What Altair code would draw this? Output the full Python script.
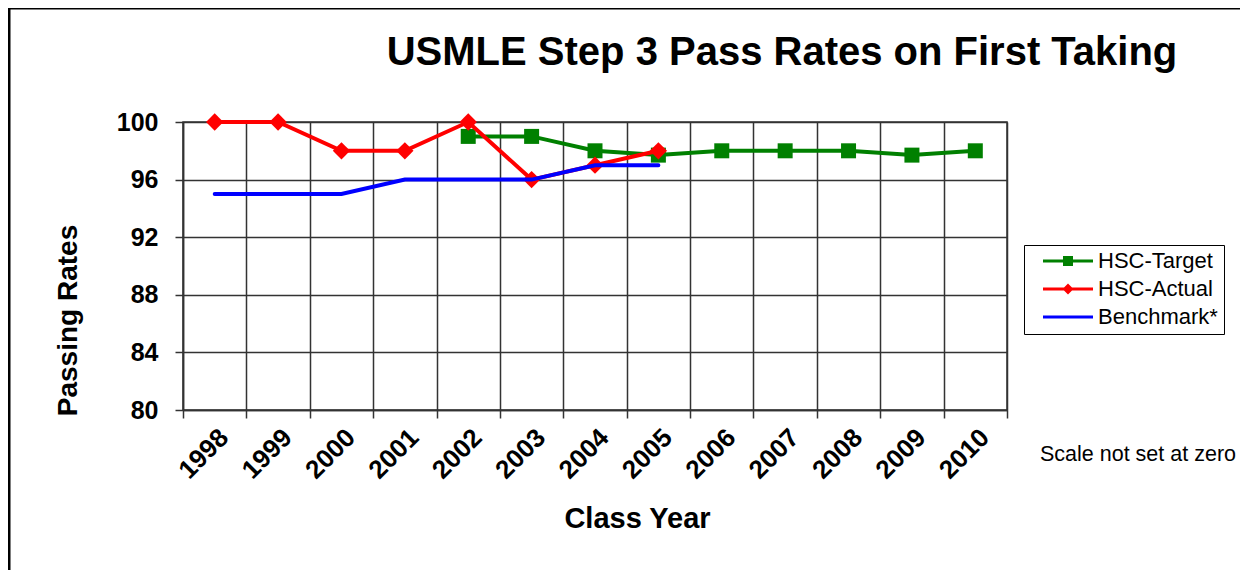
import altair as alt
import pandas as pd

# ---- data ----
years = ["1998", "1999", "2000", "2001", "2002", "2003", "2004",
         "2005", "2006", "2007", "2008", "2009", "2010"]
target_years = ["2002", "2003", "2004", "2005", "2006", "2007", "2008", "2009", "2010"]
target_vals = [99, 99, 98, 97.7, 98, 98, 98, 97.7, 98]
actual_years = ["1998", "1999", "2000", "2001", "2002", "2003", "2004", "2005"]
actual_vals = [100, 100, 98, 98, 100, 96, 97, 98]
bench_years = ["1998", "1999", "2000", "2001", "2002", "2003", "2004", "2005"]
bench_vals = [95, 95, 95, 96, 96, 96, 97, 97]
series_names = ["HSC-Target", "HSC-Actual", "Benchmark*"]
series_colors = ["#008000", "#FF0000", "#0000FF"]
y_ticks = [80, 84, 88, 92, 96, 100]
title_text = ["USMLE Step 3 Pass Rates on First Taking"]
note_text = ["Scale not set at zero"]

FONT = "Liberation Sans"

target_df = pd.DataFrame({"year": target_years, "value": target_vals})
actual_df = pd.DataFrame({"year": actual_years, "value": actual_vals})
bench_df = pd.DataFrame({"year": bench_years, "value": bench_vals})

x_enc = alt.X(
    "year:O",
    scale=alt.Scale(type="band", domain=years, paddingInner=0, paddingOuter=0),
    axis=alt.Axis(
        title="Class Year", tickBand="extent", labelAngle=-45,
        labelFontSize=26, labelFontWeight="bold", labelPadding=6,
        tickSize=8, titleX=454, titleY=108, titleBaseline="middle",
        titleAlign="center", titleFontSize=29, titleFontWeight="bold",
    ),
)
y_enc = alt.Y(
    "value:Q",
    scale=alt.Scale(domain=[80, 100], zero=False, nice=False),
    axis=alt.Axis(
        values=y_ticks, title="Passing Rates", labelFontSize=25,
        labelFontWeight="bold", labelPadding=17, tickSize=8,
        titleX=-115, titleY=198, titleAngle=270, titleAlign="center",
        titleBaseline="middle", titleFontSize=28, titleFontWeight="bold",
    ),
)

g_line = alt.Chart(target_df).mark_line(color=series_colors[0], strokeWidth=4).encode(x=x_enc, y=y_enc)
g_pt = alt.Chart(target_df).mark_point(shape="square", filled=True, opacity=1, size=225,
                                       color=series_colors[0]).encode(x=x_enc, y=y_enc)
r_line = alt.Chart(actual_df).mark_line(color=series_colors[1], strokeWidth=4).encode(x=x_enc, y=y_enc)
r_pt = alt.Chart(actual_df).mark_point(shape="diamond", filled=True, opacity=1, size=300,
                                       color=series_colors[1]).encode(x=x_enc, y=y_enc)
b_line = alt.Chart(bench_df).mark_line(color=series_colors[2], strokeWidth=4,
                                       strokeCap="round").encode(x=x_enc, y=y_enc)

# legend symbols: a short line with the series marker on it
line_path = "M-1,-0.06H1V0.06H-1Z"
legend_paths = [
    line_path + "M-0.2,-0.2H0.2V0.2H-0.2Z",
    line_path + "M0,-0.22L0.22,0L0,0.22L-0.22,0Z",
    line_path,
]
leg = alt.Legend(
    title=None, orient="none", legendX=841, legendY=123,
    strokeColor="black", fillColor="white", padding=6,
    symbolSize=2500, symbolStrokeWidth=0, symbolOffset=13,
    labelFontSize=22, labelFont=FONT, labelColor="black", labelOffset=5,
    clipHeight=20, rowPadding=6,
)
legend_layer = alt.Chart(pd.DataFrame({"series": series_names})).mark_point(
    filled=True, opacity=1, clip=True
).encode(
    x=alt.value(-300), y=alt.value(-300),
    color=alt.Color("series:N", scale=alt.Scale(domain=series_names, range=series_colors), legend=leg),
    shape=alt.Shape("series:N", scale=alt.Scale(domain=series_names, range=legend_paths), legend=leg),
)

frame = alt.Chart(pd.DataFrame({"k": [0]})).mark_rect(
    fillOpacity=0, stroke="black", strokeWidth=3, clip=False
).encode(x=alt.value(-174), x2=alt.value(1300), y=alt.value(-114), y2=alt.value(600))

title_layer = alt.Chart(pd.DataFrame({"t": title_text})).mark_text(
    font=FONT, fontSize=40, fontWeight="bold", align="center", baseline="alphabetic", color="black"
).encode(x=alt.value(599), y=alt.value(-57), text="t:N")

note_layer = alt.Chart(pd.DataFrame({"t": note_text})).mark_text(
    font=FONT, fontSize=21.5, align="left", baseline="middle", color="black"
).encode(x=alt.value(857), y=alt.value(333), text="t:N")

chart = alt.layer(
    frame, title_layer, note_layer, g_line, g_pt, r_line, r_pt, b_line, legend_layer
).properties(
    width=824, height=288,
    autosize=alt.AutoSizeParams(type="none"),
    padding={"left": 175, "top": 114, "right": 233, "bottom": 160},
    background="white",
).configure_view(
    stroke="#333333", strokeWidth=1.5
).configure_axis(
    labelFont=FONT, titleFont=FONT, labelColor="black", titleColor="black",
    domainColor="#333333", tickColor="#333333", gridColor="#333333",
    domainWidth=1.5, tickWidth=1.5, gridWidth=1.5, grid=True, gridOpacity=1,
)

chart.save("out.html", embed_options={"renderer": "svg", "actions": False})
